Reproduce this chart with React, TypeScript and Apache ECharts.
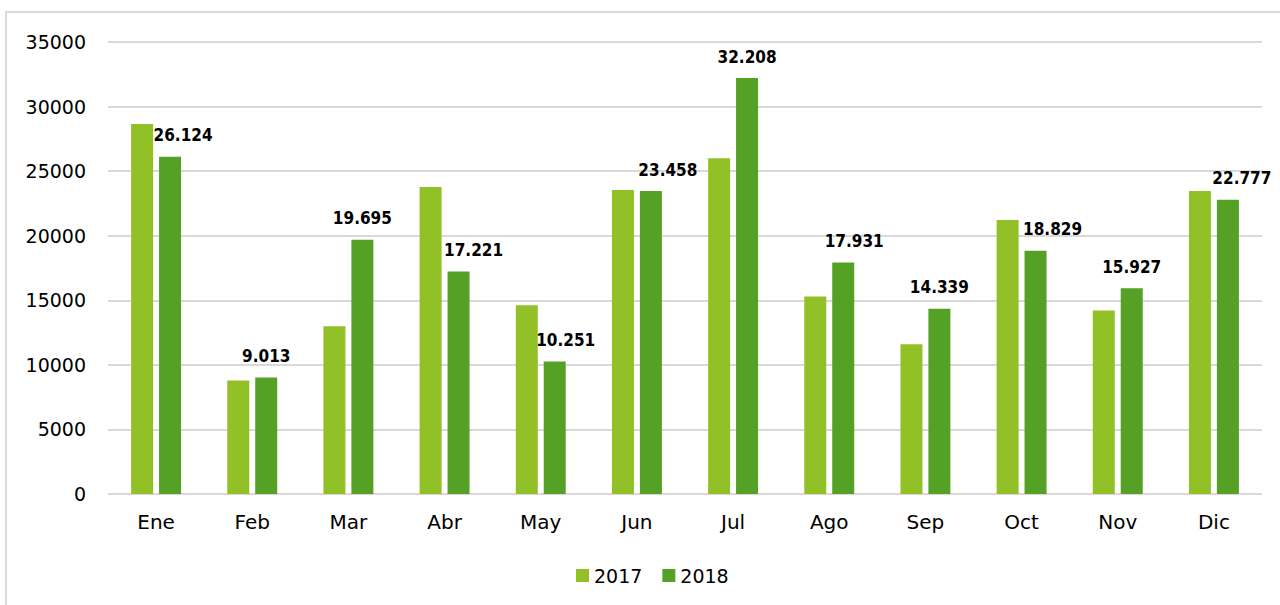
import React, { useEffect, useRef } from "react";
import * as echarts from "echarts";

const MONTHS = ["Ene", "Feb", "Mar", "Abr", "May", "Jun", "Jul", "Ago", "Sep", "Oct", "Nov", "Dic"];
const SERIES_NAMES = ["2017", "2018"];
const VALUES_2017 = [28650, 8790, 12990, 23770, 14615, 23535, 25990, 15290, 11590, 21210, 14200, 23460];
const VALUES_2018 = [26124, 9013, 19695, 17221, 10251, 23458, 32208, 17931, 14339, 18829, 15927, 22777];
const Y_MIN = 0;
const Y_MAX = 35000;
const Y_INTERVAL = 5000;

// horizontal nudges for the 2018 labels (as in the reference, to avoid the 2017 bars)
const LABEL_NUDGE = [13, 0, 0, 15, 11, 17, 0, 11, 0, 17, 0, 14];

const fmt = (v: number) => String(v).replace(/\B(?=(\d{3})+(?!\d))/g, ".");

export default function App() {
  const ref = useRef<HTMLDivElement>(null);
  useEffect(() => {
    if (!ref.current) return;
    const chart = echarts.init(ref.current, undefined, { renderer: "svg" });
    const font = "DejaVu Sans, sans-serif";
    chart.setOption({
      animation: false,
      backgroundColor: "#ffffff",
      graphic: [
        {
          type: "rect",
          shape: { x: 6, y: 12, width: 1300, height: 620 },
          style: { fill: "none", stroke: "#d9d9d9", lineWidth: 2 },
          silent: true,
          z: -1,
        },
      ],
      grid: { left: 108, right: 18, top: 42, bottom: 111, containLabel: false },
      legend: {
        data: SERIES_NAMES,
        left: 576,
        top: 566,
        padding: 0,
        icon: "rect",
        itemWidth: 13,
        itemHeight: 13,
        itemGap: 20,
        textStyle: { fontFamily: font, fontSize: 19, color: "#000" },
      },
      xAxis: {
        type: "category",
        data: MONTHS,
        axisLine: { show: false },
        axisTick: { show: false },
        axisLabel: { fontFamily: font, fontSize: 20, color: "#000", margin: 18 },
      },
      yAxis: {
        type: "value",
        min: Y_MIN,
        max: Y_MAX,
        interval: Y_INTERVAL,
        axisLine: { show: false },
        axisTick: { show: false },
        axisLabel: {
          fontFamily: font,
          fontSize: 19,
          color: "#000",
          margin: 22,
          formatter: (v: number) => String(v),
        },
        splitLine: { lineStyle: { color: "#d9d9d9", width: 2 } },
      },
      series: [
        {
          name: SERIES_NAMES[0],
          type: "bar",
          data: VALUES_2017,
          barWidth: 22,
          barGap: "27%",
          itemStyle: { color: "#92c127" },
        },
        {
          name: SERIES_NAMES[1],
          type: "bar",
          data: VALUES_2018.map((v, i) => ({
            value: v,
            label: { offset: [LABEL_NUDGE[i], 0] },
          })),
          barWidth: 22,
          barGap: "27%",
          itemStyle: { color: "#55a125" },
          label: {
            show: true,
            position: "top",
            distance: 13,
            formatter: (p: any) => fmt(p.value),
            fontFamily: "DejaVu Sans Condensed, DejaVu Sans, sans-serif",
            fontWeight: "bold",
            fontSize: 17,
            color: "#000",
          },
        },
      ],
    });
    return () => chart.dispose();
  }, []);
  return (
    <div
      ref={ref}
      style={{ position: "fixed", left: 0, top: 0, width: 1280, height: 605 }}
    />
  );
}
